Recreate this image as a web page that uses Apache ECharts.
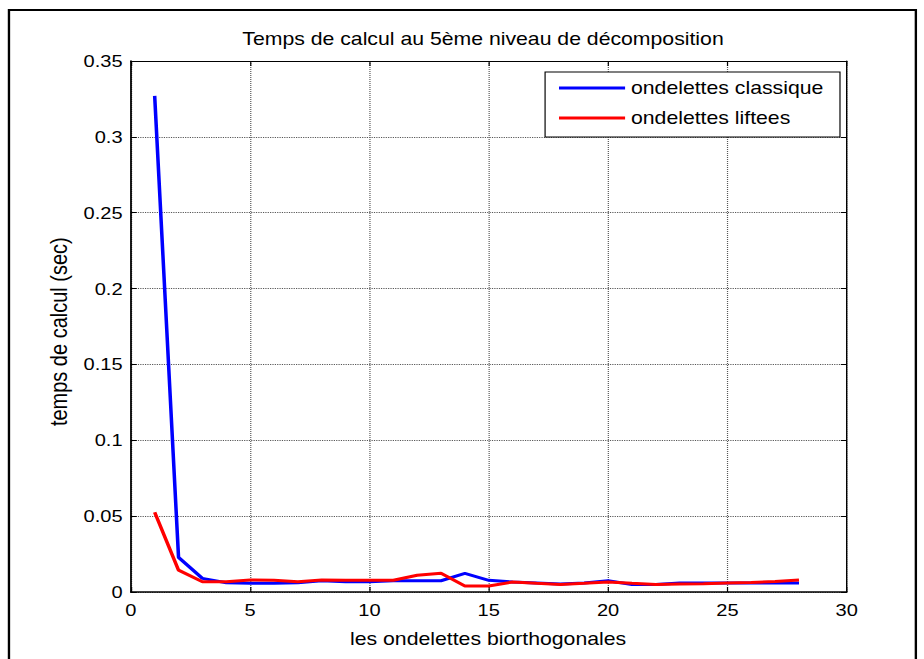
<!DOCTYPE html>
<html>
<head>
<meta charset="utf-8">
<script src="https://cdn.jsdelivr.net/npm/echarts@6/dist/echarts.min.js"></script>
<style>
html,body{margin:0;padding:0;background:#fff;overflow:hidden;width:924px;height:659px;}
#c{width:783px;height:659px;transform:scaleX(1.18008);transform-origin:0 0;}
</style>
</head>
<body>
<div id="c"></div>
<script>
// ---- data ----
var waveletIndex = [1,2,3,4,5,6,7,8,9,10,11,12,13,14,15,16,17,18,19,20,21,22,23,24,25,26,27,28];
var classique = [0.327,0.0228,0.0090,0.0061,0.0057,0.0057,0.0061,0.0074,0.0068,0.0068,0.0074,0.0074,0.0074,0.0123,0.0077,0.0066,0.0060,0.0053,0.0060,0.0074,0.0050,0.0050,0.0060,0.0060,0.0060,0.0060,0.0060,0.0060];
var liftees = [0.0525,0.0144,0.0068,0.0068,0.0079,0.0077,0.0068,0.0079,0.0077,0.0077,0.0077,0.0110,0.0123,0.0039,0.0039,0.0066,0.0057,0.0050,0.0057,0.0066,0.0057,0.0050,0.0053,0.0055,0.0060,0.0062,0.0070,0.0079];
var seriesNames = ['ondelettes classique','ondelettes liftees'];
var titleText = 'Temps de calcul au 5ème niveau de décomposition';
var xLabel = 'les ondelettes biorthogonales';
var yLabel = 'temps de calcul (sec)';

function pairs(xs, ys){ return xs.map(function(x,i){ return [x, ys[i]]; }); }

var FONT = '"Liberation Sans", Arial, sans-serif';
var chart = echarts.init(document.getElementById('c'), null, {renderer:'svg'});

var tickStyle = {show:true, inside:true, length:5, lineStyle:{color:'#000', width:1}};
var grid = {show:true, type:'dotted', color:'#555', width:1};

chart.setOption({
  animation:false,
  backgroundColor:'#fff',
  textStyle:{fontFamily:FONT},
  grid:{left:110.85, right:65.5, top:61, bottom:67, containLabel:false},
  xAxis:[{
    type:'value', min:0, max:30, interval:5, position:'bottom',
    axisLine:{show:true, onZero:false, lineStyle:{color:'#000', width:1.5}},
    axisTick:tickStyle,
    axisLabel:{color:'#000', fontSize:17, margin:10, fontFamily:FONT},
    splitLine:{show:true, lineStyle:grid}
  },{
    type:'value', min:0, max:30, interval:5, position:'top',
    axisLine:{show:true, onZero:false, lineStyle:{color:'#000', width:1.2}},
    axisTick:tickStyle, axisLabel:{show:false}, splitLine:{show:false}
  }],
  yAxis:[{
    type:'value', min:0, max:0.35, interval:0.05, position:'left',
    axisLine:{show:true, onZero:false, lineStyle:{color:'#000', width:1.5}},
    axisTick:tickStyle,
    axisLabel:{color:'#000', fontSize:17, margin:7, fontFamily:FONT},
    splitLine:{show:true, lineStyle:grid}
  },{
    type:'value', min:0, max:0.35, interval:0.05, position:'right',
    axisLine:{show:true, onZero:false, lineStyle:{color:'#000', width:1.2}},
    axisTick:tickStyle, axisLabel:{show:false}, splitLine:{show:false}
  }],
  legend:{
    data:seriesNames, orient:'vertical', left:461.9, top:72,
    padding:[6,14,9,11.8], itemGap:10, itemWidth:56, itemHeight:3, icon:'rect',
    backgroundColor:'#fff', borderColor:'#000', borderWidth:1, borderRadius:0,
    selectedMode:false,
    textStyle:{color:'#000', fontSize:18, lineHeight:20, fontFamily:FONT}
  },
  series:[{
    name:seriesNames[0], type:'line', data:pairs(waveletIndex, classique),
    xAxisIndex:0, yAxisIndex:0, symbol:'none', color:'#0000ff',
    lineStyle:{color:'#0000ff', width:3}
  },{
    name:seriesNames[1], type:'line', data:pairs(waveletIndex, liftees),
    xAxisIndex:0, yAxisIndex:0, symbol:'none', color:'#ff0000',
    lineStyle:{color:'#ff0000', width:3}
  }],
  graphic:[
    {type:'rect', shape:{x:7.6, y:10, width:768.5, height:700}, style:{fill:'none', stroke:'#000', lineWidth:2}, silent:true, z:-1},
    {type:'text', x:409.3, y:39, style:{text:titleText, fill:'#000', font:'18px '+FONT, textAlign:'center', textVerticalAlign:'middle'}},
    {type:'text', x:413.6, y:639, style:{text:xLabel, fill:'#000', font:'18px '+FONT, textAlign:'center', textVerticalAlign:'middle'}},
    {type:'text', x:50, y:331.7, rotation:Math.PI/2, style:{text:yLabel, fill:'#000', font:'20px '+FONT, textAlign:'center', textVerticalAlign:'middle'}}
  ]
});
</script>
</body>
</html>
